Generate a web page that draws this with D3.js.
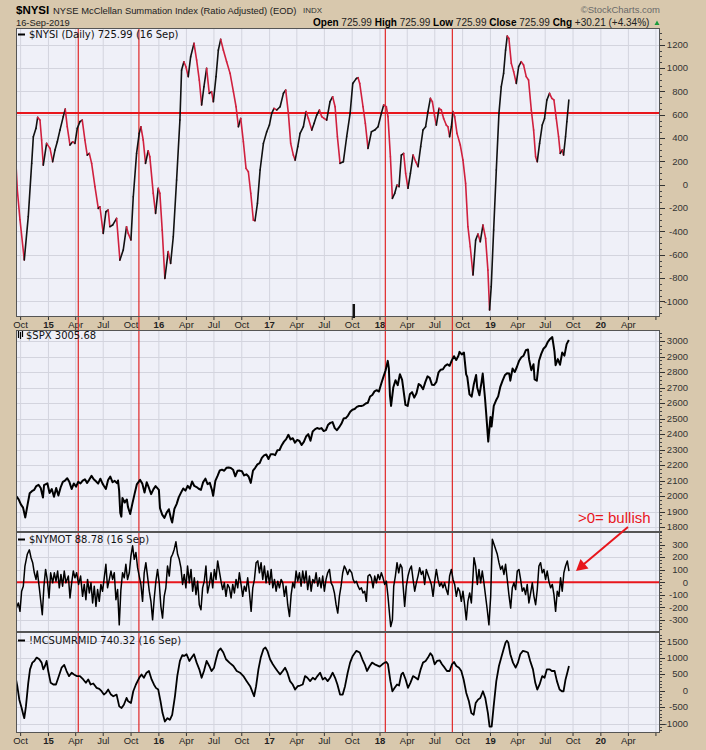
<!DOCTYPE html>
<html><head><meta charset="utf-8">
<script src="https://cdn.jsdelivr.net/npm/d3@7"></script>
<style>body{margin:0;background:#d8c8ad}svg{display:block}</style>
</head><body><svg id="c" width="706" height="750"></svg>
<script>
// ---------- DATA (decimal year, value) ----------
const nysi = [[2014.703,230],[2014.718,-46],[2014.742,-300],[2014.781,-645],[2014.817,-274],[2014.848,183],[2014.863,411],[2014.887,483],[2014.902,577],[2014.923,554],[2014.938,383],[2014.953,168],[2014.983,354],[2015.014,311],[2015.038,197],[2015.059,297],[2015.080,368],[2015.104,468],[2015.134,583],[2015.152,648],[2015.170,497],[2015.195,340],[2015.219,368],[2015.240,354],[2015.261,483],[2015.285,540],[2015.306,554],[2015.330,383],[2015.351,254],[2015.370,268],[2015.391,183],[2015.421,-17],[2015.451,-203],[2015.466,-189],[2015.496,-417],[2015.520,-232],[2015.541,-217],[2015.556,-360],[2015.581,-346],[2015.617,-289],[2015.647,-646],[2015.677,-560],[2015.707,-360],[2015.722,-417],[2015.747,-474],[2015.768,-103],[2015.798,268],[2015.822,440],[2015.837,497],[2015.858,383],[2015.879,183],[2015.903,291],[2015.918,240],[2015.949,-74],[2015.970,-246],[2015.994,-31],[2016.009,-74],[2016.030,-389],[2016.054,-803],[2016.084,-574],[2016.106,-674],[2016.130,-446],[2016.160,40],[2016.190,554],[2016.205,983],[2016.226,1054],[2016.244,1011],[2016.265,926],[2016.287,1097],[2016.317,1211],[2016.341,1068],[2016.365,897],[2016.386,683],[2016.407,840],[2016.431,997],[2016.455,783],[2016.476,797],[2016.492,711],[2016.516,926],[2016.537,1154],[2016.558,1246],[2016.582,1154],[2016.612,1054],[2016.643,954],[2016.673,797],[2016.697,668],[2016.718,497],[2016.739,568],[2016.763,368],[2016.787,140],[2016.808,111],[2016.830,-74],[2016.853,-303],[2016.868,-309],[2016.890,-160],[2016.914,126],[2016.944,354],[2016.974,454],[2016.998,511],[2017.019,611],[2017.040,654],[2017.065,640],[2017.095,668],[2017.125,783],[2017.146,811],[2017.170,611],[2017.191,354],[2017.215,254],[2017.231,211],[2017.255,326],[2017.276,440],[2017.306,497],[2017.330,626],[2017.351,568],[2017.382,468],[2017.403,526],[2017.427,597],[2017.451,640],[2017.472,583],[2017.493,568],[2017.517,554],[2017.547,711],[2017.571,754],[2017.593,668],[2017.614,411],[2017.638,183],[2017.668,197],[2017.698,411],[2017.729,611],[2017.753,868],[2017.786,911],[2017.801,917],[2017.816,868],[2017.846,668],[2017.867,526],[2017.891,311],[2017.922,454],[2017.952,468],[2017.982,497],[2018.012,611],[2018.033,683],[2018.057,668],[2018.072,583],[2018.094,240],[2018.112,-117],[2018.133,-74],[2018.154,-3],[2018.172,-17],[2018.193,254],[2018.214,268],[2018.232,97],[2018.253,-31],[2018.275,97],[2018.299,254],[2018.323,197],[2018.344,154],[2018.368,326],[2018.389,468],[2018.413,497],[2018.434,626],[2018.456,740],[2018.474,711],[2018.495,583],[2018.510,511],[2018.534,654],[2018.555,640],[2018.576,568],[2018.600,511],[2018.615,497],[2018.630,411],[2018.646,497],[2018.661,626],[2018.676,583],[2018.697,440],[2018.727,340],[2018.751,211],[2018.775,11],[2018.796,-360],[2018.817,-532],[2018.842,-774],[2018.866,-474],[2018.887,-423],[2018.908,-489],[2018.932,-346],[2018.956,-460],[2018.977,-732],[2018.992,-1074],[2019.007,-874],[2019.029,-389],[2019.053,126],[2019.077,611],[2019.098,840],[2019.119,954],[2019.137,1154],[2019.152,1274],[2019.167,1254],[2019.189,1040],[2019.210,969],[2019.234,868],[2019.255,1011],[2019.279,1054],[2019.300,1026],[2019.324,926],[2019.345,897],[2019.370,640],[2019.391,468],[2019.409,240],[2019.424,197],[2019.445,354],[2019.469,511],[2019.490,568],[2019.511,726],[2019.535,783],[2019.556,740],[2019.575,726],[2019.596,568],[2019.617,411],[2019.632,268],[2019.650,297],[2019.662,254],[2019.680,411],[2019.692,540],[2019.710,726]];

const spx = [[2014.71,1998],[2014.73,1978],[2014.75,1946],[2014.77,1925],[2014.79,1862],[2014.81,1941],[2014.83,2018],[2014.85,2031],[2014.87,2039],[2014.89,2064],[2014.91,2072],[2014.93,2052],[2014.95,1990],[2014.96,2070],[2014.99,2082],[2015.01,2020],[2015.03,2045],[2015.05,1995],[2015.07,2052],[2015.09,2003],[2015.11,2055],[2015.13,2092],[2015.15,2100],[2015.17,2115],[2015.19,2090],[2015.21,2045],[2015.23,2081],[2015.25,2061],[2015.27,2092],[2015.29,2081],[2015.31,2100],[2015.33,2108],[2015.35,2085],[2015.37,2106],[2015.39,2130],[2015.41,2108],[2015.43,2095],[2015.45,2080],[2015.47,2112],[2015.49,2080],[2015.50,2068],[2015.52,2046],[2015.54,2103],[2015.56,2125],[2015.58,2089],[2015.60,2098],[2015.62,2083],[2015.63,2100],[2015.64,2035],[2015.65,1893],[2015.66,1867],[2015.67,1988],[2015.69,1958],[2015.71,1978],[2015.72,1930],[2015.74,1884],[2015.76,1951],[2015.78,2014],[2015.80,2075],[2015.83,2104],[2015.85,2080],[2015.87,2023],[2015.89,2089],[2015.91,2052],[2015.93,2012],[2015.95,2043],[2015.97,2064],[2016.00,2040],[2016.01,1922],[2016.03,1880],[2016.05,1859],[2016.07,1893],[2016.09,1915],[2016.11,1852],[2016.12,1829],[2016.14,1917],[2016.16,1948],[2016.18,1993],[2016.20,2022],[2016.22,2049],[2016.24,2035],[2016.26,2066],[2016.28,2048],[2016.30,2094],[2016.32,2065],[2016.34,2058],[2016.36,2047],[2016.38,2040],[2016.40,2090],[2016.42,2112],[2016.44,2077],[2016.46,2085],[2016.48,2037],[2016.49,2001],[2016.51,2098],[2016.53,2130],[2016.55,2165],[2016.57,2170],[2016.59,2163],[2016.61,2182],[2016.63,2184],[2016.65,2181],[2016.67,2170],[2016.69,2127],[2016.71,2163],[2016.73,2164],[2016.75,2160],[2016.77,2133],[2016.79,2140],[2016.81,2126],[2016.83,2085],[2016.85,2164],[2016.87,2182],[2016.89,2204],[2016.91,2212],[2016.93,2246],[2016.95,2262],[2016.97,2268],[2016.99,2239],[2017.01,2270],[2017.03,2270],[2017.05,2264],[2017.07,2295],[2017.09,2297],[2017.11,2328],[2017.13,2351],[2017.15,2367],[2017.17,2395],[2017.19,2365],[2017.21,2373],[2017.23,2344],[2017.25,2362],[2017.27,2355],[2017.29,2329],[2017.31,2349],[2017.33,2384],[2017.35,2399],[2017.37,2357],[2017.39,2416],[2017.41,2430],[2017.43,2439],[2017.45,2433],[2017.47,2438],[2017.49,2419],[2017.51,2425],[2017.53,2460],[2017.55,2472],[2017.57,2477],[2017.59,2438],[2017.61,2425],[2017.63,2444],[2017.65,2466],[2017.67,2500],[2017.69,2503],[2017.71,2519],[2017.73,2544],[2017.75,2557],[2017.77,2561],[2017.79,2575],[2017.81,2581],[2017.83,2581],[2017.85,2585],[2017.87,2597],[2017.89,2602],[2017.91,2642],[2017.93,2652],[2017.95,2675],[2017.97,2683],[2017.99,2674],[2018.01,2723],[2018.03,2767],[2018.05,2810],[2018.07,2872],[2018.08,2823],[2018.09,2648],[2018.10,2581],[2018.12,2700],[2018.14,2747],[2018.16,2715],[2018.18,2786],[2018.20,2750],[2018.22,2643],[2018.23,2588],[2018.25,2581],[2018.27,2656],[2018.29,2670],[2018.31,2635],[2018.33,2663],[2018.35,2723],[2018.37,2712],[2018.39,2689],[2018.41,2735],[2018.43,2772],[2018.45,2762],[2018.47,2718],[2018.49,2716],[2018.51,2736],[2018.53,2798],[2018.55,2815],[2018.57,2818],[2018.59,2840],[2018.61,2850],[2018.63,2840],[2018.65,2875],[2018.67,2902],[2018.69,2878],[2018.71,2905],[2018.72,2930],[2018.74,2914],[2018.76,2925],[2018.78,2785],[2018.79,2768],[2018.81,2656],[2018.83,2641],[2018.85,2723],[2018.87,2781],[2018.88,2700],[2018.90,2650],[2018.92,2738],[2018.93,2790],[2018.95,2637],[2018.96,2546],[2018.98,2351],[2019.00,2510],[2019.01,2448],[2019.03,2582],[2019.05,2616],[2019.07,2643],[2019.09,2706],[2019.11,2745],[2019.13,2779],[2019.15,2792],[2019.17,2790],[2019.18,2744],[2019.20,2822],[2019.22,2800],[2019.24,2834],[2019.26,2873],[2019.28,2895],[2019.30,2905],[2019.32,2940],[2019.34,2945],[2019.35,2881],[2019.37,2812],[2019.39,2850],[2019.40,2752],[2019.42,2744],[2019.44,2873],[2019.46,2917],[2019.48,2950],[2019.50,2964],[2019.52,2995],[2019.54,3013],[2019.56,3025],[2019.58,2932],[2019.59,2844],[2019.61,2883],[2019.63,2847],[2019.65,2926],[2019.67,2906],[2019.69,2980],[2019.71,3006]];

const nymot = [[2014.703,-220],[2014.727,-166],[2014.742,-233],[2014.757,-72],[2014.772,-32],[2014.787,129],[2014.808,223],[2014.827,258],[2014.842,196],[2014.857,156],[2014.872,75],[2014.887,22],[2014.899,89],[2014.917,-45],[2014.929,-140],[2014.944,-260],[2014.959,-32],[2014.974,102],[2014.989,22],[2015.005,-126],[2015.020,75],[2015.038,-5],[2015.053,75],[2015.068,8],[2015.083,89],[2015.098,-45],[2015.113,62],[2015.128,-32],[2015.143,89],[2015.158,-5],[2015.180,49],[2015.195,-126],[2015.210,-5],[2015.225,89],[2015.240,35],[2015.255,75],[2015.273,-18],[2015.291,49],[2015.309,-113],[2015.324,-18],[2015.339,-140],[2015.354,22],[2015.370,-86],[2015.385,-5],[2015.400,-166],[2015.415,-32],[2015.430,-193],[2015.445,-59],[2015.460,-153],[2015.475,-18],[2015.490,-72],[2015.505,35],[2015.520,143],[2015.535,-45],[2015.551,22],[2015.566,89],[2015.581,22],[2015.596,75],[2015.611,-140],[2015.626,-59],[2015.641,-341],[2015.656,-59],[2015.671,75],[2015.686,35],[2015.701,143],[2015.716,22],[2015.732,75],[2015.747,210],[2015.762,291],[2015.777,183],[2015.792,237],[2015.807,116],[2015.822,49],[2015.837,-18],[2015.852,-153],[2015.867,75],[2015.882,156],[2015.897,49],[2015.913,-72],[2015.928,-153],[2015.943,-301],[2015.958,-126],[2015.973,8],[2015.988,102],[2016.003,-5],[2016.018,-193],[2016.033,-287],[2016.048,-113],[2016.063,-45],[2016.078,129],[2016.094,49],[2016.109,196],[2016.124,223],[2016.139,264],[2016.154,323],[2016.169,223],[2016.184,183],[2016.199,116],[2016.214,-18],[2016.229,62],[2016.244,-45],[2016.259,129],[2016.275,-5],[2016.290,102],[2016.305,-72],[2016.320,35],[2016.335,-99],[2016.350,8],[2016.365,-180],[2016.380,-220],[2016.395,-45],[2016.410,8],[2016.425,129],[2016.440,-86],[2016.456,-18],[2016.471,75],[2016.486,-45],[2016.501,102],[2016.516,22],[2016.531,170],[2016.546,89],[2016.561,8],[2016.576,-59],[2016.591,-5],[2016.606,-113],[2016.621,-18],[2016.637,-45],[2016.652,-126],[2016.667,-18],[2016.682,-86],[2016.697,22],[2016.712,-45],[2016.727,75],[2016.742,-18],[2016.757,-113],[2016.772,-32],[2016.787,-72],[2016.802,35],[2016.818,-86],[2016.833,-233],[2016.848,-45],[2016.863,22],[2016.878,156],[2016.893,170],[2016.908,75],[2016.923,156],[2016.938,22],[2016.953,129],[2016.968,-5],[2016.983,89],[2016.999,-18],[2017.014,102],[2017.029,-45],[2017.044,22],[2017.059,-72],[2017.074,8],[2017.089,-45],[2017.104,22],[2017.119,-5],[2017.134,-113],[2017.149,-32],[2017.164,-180],[2017.180,-274],[2017.195,-99],[2017.210,-5],[2017.225,-45],[2017.240,89],[2017.255,8],[2017.270,75],[2017.285,-32],[2017.300,89],[2017.315,-5],[2017.330,89],[2017.345,-59],[2017.361,49],[2017.376,-72],[2017.391,22],[2017.406,-5],[2017.421,75],[2017.436,-32],[2017.451,35],[2017.466,-45],[2017.481,49],[2017.496,-72],[2017.511,22],[2017.526,75],[2017.542,102],[2017.557,-5],[2017.572,-32],[2017.587,-86],[2017.602,-180],[2017.617,-247],[2017.632,-113],[2017.647,-32],[2017.662,75],[2017.677,129],[2017.692,102],[2017.707,62],[2017.723,102],[2017.744,75],[2017.756,22],[2017.771,-5],[2017.786,8],[2017.801,-32],[2017.816,-59],[2017.831,-45],[2017.846,-86],[2017.861,-72],[2017.876,-153],[2017.891,49],[2017.907,62],[2017.922,35],[2017.937,-45],[2017.952,49],[2017.967,-5],[2017.982,62],[2017.997,22],[2018.012,75],[2018.027,35],[2018.042,-18],[2018.057,8],[2018.072,-113],[2018.088,-274],[2018.097,-355],[2018.112,-301],[2018.124,-32],[2018.139,49],[2018.154,156],[2018.169,75],[2018.184,143],[2018.199,116],[2018.208,-18],[2018.223,-193],[2018.238,-32],[2018.253,49],[2018.269,102],[2018.284,129],[2018.299,22],[2018.314,-72],[2018.329,-5],[2018.344,49],[2018.359,116],[2018.374,62],[2018.389,89],[2018.404,-18],[2018.419,102],[2018.434,62],[2018.450,22],[2018.465,-18],[2018.480,-113],[2018.495,8],[2018.510,102],[2018.525,22],[2018.540,-32],[2018.555,-5],[2018.570,-45],[2018.585,-5],[2018.600,-59],[2018.615,-99],[2018.630,49],[2018.646,102],[2018.661,22],[2018.676,-18],[2018.691,-113],[2018.706,-45],[2018.721,-72],[2018.736,-153],[2018.751,-72],[2018.766,-180],[2018.781,-301],[2018.796,-153],[2018.812,-86],[2018.827,-166],[2018.842,49],[2018.851,196],[2018.866,129],[2018.881,-18],[2018.896,102],[2018.911,-5],[2018.926,89],[2018.941,-5],[2018.956,-113],[2018.971,-220],[2018.986,-341],[2019.002,-113],[2019.017,344],[2019.032,304],[2019.047,264],[2019.062,223],[2019.077,156],[2019.092,102],[2019.107,129],[2019.122,62],[2019.137,143],[2019.152,22],[2019.167,-99],[2019.183,-207],[2019.198,-45],[2019.213,-5],[2019.228,-59],[2019.243,89],[2019.258,102],[2019.273,22],[2019.288,-72],[2019.303,-45],[2019.318,-99],[2019.333,-18],[2019.348,-166],[2019.364,-86],[2019.379,-5],[2019.394,-113],[2019.409,-180],[2019.424,-59],[2019.439,129],[2019.454,156],[2019.469,75],[2019.484,102],[2019.499,22],[2019.514,89],[2019.529,8],[2019.545,-45],[2019.560,-18],[2019.575,-99],[2019.590,-233],[2019.605,-72],[2019.620,-113],[2019.635,35],[2019.650,-72],[2019.665,75],[2019.680,129],[2019.696,170],[2019.711,89]];

const mcsum = [[2014.703,389],[2014.718,134],[2014.736,-275],[2014.757,-531],[2014.772,-735],[2014.781,-837],[2014.796,-480],[2014.817,236],[2014.833,645],[2014.854,849],[2014.872,900],[2014.893,1002],[2014.917,951],[2014.938,849],[2014.953,645],[2014.968,747],[2014.983,900],[2014.998,594],[2015.020,236],[2015.044,185],[2015.068,185],[2015.089,389],[2015.119,696],[2015.143,778],[2015.164,594],[2015.186,440],[2015.210,543],[2015.231,491],[2015.255,440],[2015.285,440],[2015.315,338],[2015.339,236],[2015.360,338],[2015.382,185],[2015.406,215],[2015.436,83],[2015.460,52],[2015.481,-20],[2015.502,-122],[2015.520,-71],[2015.541,31],[2015.566,-122],[2015.587,-173],[2015.617,-122],[2015.641,-480],[2015.662,-531],[2015.683,-429],[2015.707,-224],[2015.722,-327],[2015.747,-378],[2015.768,-20],[2015.792,185],[2015.822,389],[2015.843,491],[2015.864,389],[2015.888,543],[2015.910,594],[2015.934,338],[2015.955,185],[2015.973,83],[2015.994,31],[2016.015,-327],[2016.033,-684],[2016.054,-940],[2016.078,-837],[2016.099,-888],[2016.120,-735],[2016.145,-173],[2016.166,440],[2016.190,900],[2016.211,1074],[2016.229,1053],[2016.250,1104],[2016.275,900],[2016.296,1002],[2016.317,1104],[2016.341,849],[2016.365,645],[2016.386,389],[2016.407,594],[2016.431,900],[2016.455,747],[2016.476,594],[2016.498,696],[2016.516,951],[2016.537,1207],[2016.558,1278],[2016.582,1156],[2016.606,951],[2016.637,849],[2016.673,747],[2016.703,594],[2016.733,543],[2016.763,440],[2016.793,287],[2016.824,134],[2016.848,-71],[2016.860,-173],[2016.878,134],[2016.899,645],[2016.920,1002],[2016.944,1258],[2016.962,1309],[2016.980,1207],[2017.004,951],[2017.029,798],[2017.050,696],[2017.071,594],[2017.095,491],[2017.119,594],[2017.140,696],[2017.161,543],[2017.185,287],[2017.209,185],[2017.231,31],[2017.255,134],[2017.276,154],[2017.300,185],[2017.321,440],[2017.342,389],[2017.367,287],[2017.391,389],[2017.412,338],[2017.433,440],[2017.457,543],[2017.481,338],[2017.502,389],[2017.526,287],[2017.548,389],[2017.571,543],[2017.593,389],[2017.614,185],[2017.638,-122],[2017.662,-122],[2017.683,134],[2017.707,543],[2017.729,849],[2017.753,1053],[2017.786,1207],[2017.816,1156],[2017.840,951],[2017.861,798],[2017.882,594],[2017.907,747],[2017.928,849],[2017.952,798],[2017.973,767],[2017.997,727],[2018.021,798],[2018.042,849],[2018.057,869],[2018.072,798],[2018.094,287],[2018.112,-20],[2018.133,83],[2018.154,185],[2018.172,154],[2018.193,491],[2018.208,543],[2018.232,338],[2018.253,83],[2018.275,236],[2018.299,440],[2018.323,389],[2018.344,338],[2018.368,645],[2018.389,849],[2018.413,900],[2018.434,1002],[2018.456,1135],[2018.474,1053],[2018.495,798],[2018.516,900],[2018.540,920],[2018.561,798],[2018.585,696],[2018.606,594],[2018.630,594],[2018.652,798],[2018.670,869],[2018.691,747],[2018.715,696],[2018.736,594],[2018.757,338],[2018.781,-71],[2018.805,-327],[2018.827,-684],[2018.848,-735],[2018.866,-378],[2018.887,-275],[2018.908,-224],[2018.932,-20],[2018.953,-224],[2018.977,-684],[2018.992,-1093],[2019.011,-1093],[2019.029,-480],[2019.053,287],[2019.077,747],[2019.098,1002],[2019.119,1258],[2019.137,1462],[2019.149,1513],[2019.161,1462],[2019.180,1104],[2019.204,849],[2019.228,696],[2019.249,849],[2019.270,1104],[2019.294,1207],[2019.318,1186],[2019.339,1156],[2019.360,900],[2019.385,645],[2019.406,236],[2019.424,31],[2019.445,185],[2019.469,440],[2019.490,389],[2019.511,645],[2019.535,645],[2019.556,594],[2019.581,594],[2019.602,287],[2019.626,31],[2019.647,-20],[2019.662,-20],[2019.680,338],[2019.696,543],[2019.711,747]];

const markerDates = [2015.270, 2015.819, 2018.048, 2018.655];
const nysiLevel = 615;
const nysiTicks = [-1000,-800,-600,-400,-200,0,200,400,600,800,1000,1200];
const spxTicks = [1800,1900,2000,2100,2200,2300,2400,2500,2600,2700,2800,2900,3000];
const nymotTicks = [-300,-200,-100,0,100,200,300];
const mcsumTicks = [-1000,-500,0,500,1000,1500];

// ---------- SETUP ----------
const svg = d3.select("#c");
const BG="#d8c8ad", PLOT="#eff0f8", GRID="#d3d4de", RED="#e8161c", DOWN="#d0203e";
const FONT="'Liberation Sans', Arial, sans-serif", LFONT="'DejaVu Sans', Verdana, sans-serif";
svg.append("rect").attr("width",706).attr("height",750).attr("fill",BG);

function yr(t){const y=Math.floor(t);const s=Date.UTC(y,0,1),e=Date.UTC(y+1,0,1);return new Date(s+(t-y)*(e-s));}
const X0=16, X1=660;
const x = d3.scaleUtc().domain([yr(2014.706), yr(2020.534)]).range([X0,X1]);
const qTicks = d3.utcMonth.every(3).range(x.domain()[0], x.domain()[1]);
const labelTicks = qTicks.filter(d=>x(d) < X1-20);
const mName = ["","","","Apr","","","Jul","","","Oct"];

const P = [
  {id:"nysi", top:28, bottom:317, dom:[-1134,1343], ticks:nysiTicks, minor:50},
  {id:"spx", top:330, bottom:532, dom:[1768,3071], ticks:spxTicks, minor:25},
  {id:"nymot", top:532, bottom:632, dom:[-398,401], ticks:nymotTicks, minor:25},
  {id:"mcsum", top:632, bottom:733, dom:[-1288,1779], ticks:mcsumTicks, minor:100}
];
P.forEach(p=>{
  p.y = d3.scaleLinear().domain(p.dom).range([p.bottom,p.top]);
  const g = svg.append("g");
  g.append("rect").attr("x",X0).attr("y",p.top).attr("width",X1-X0).attr("height",p.bottom-p.top).attr("fill",PLOT);
  g.selectAll(".vg").data(qTicks).join("line").attr("x1",d=>x(d)).attr("x2",d=>x(d))
    .attr("y1",p.top).attr("y2",p.bottom).attr("stroke",GRID).attr("stroke-width",1);
  g.selectAll(".hg").data(p.ticks).join("line").attr("x1",X0).attr("x2",X1)
    .attr("y1",d=>Math.round(p.y(d))+0.5).attr("y2",d=>Math.round(p.y(d))+0.5).attr("stroke",GRID);
  const mins = d3.range(Math.ceil(p.dom[0]/p.minor)*p.minor, p.dom[1], p.minor);
  g.selectAll(".mt").data(mins).join("line").attr("x1",X1).attr("x2",X1+2)
    .attr("y1",d=>Math.round(p.y(d))+0.5).attr("y2",d=>Math.round(p.y(d))+0.5).attr("stroke","#444");
  g.selectAll(".Mt").data(p.ticks).join("line").attr("x1",X1).attr("x2",X1+5)
    .attr("y1",d=>Math.round(p.y(d))+0.5).attr("y2",d=>Math.round(p.y(d))+0.5).attr("stroke","#333");
  g.selectAll(".tl").data(p.ticks).join("text").attr("x",688).attr("y",d=>p.y(d)).attr("dy","0.35em")
    .attr("text-anchor","end").attr("font-family",FONT).attr("font-size",9.5).attr("fill","#333").text(d=>d);
  svg.append("clipPath").attr("id","cl-"+p.id).append("rect")
    .attr("x",X0).attr("y",p.top).attr("width",X1-X0).attr("height",p.bottom-p.top);
});

// x-axis label bands
function xLabels(yb, yTickTop){
  const g = svg.append("g");
  g.selectAll("line").data(qTicks).join("line").attr("x1",d=>x(d)).attr("x2",d=>x(d))
    .attr("y1",yTickTop).attr("y2",yTickTop+3).attr("stroke","#333");
  g.selectAll("text").data(labelTicks).join("text").attr("x",d=>x(d)).attr("y",yb)
    .attr("text-anchor","middle").attr("font-family",FONT).attr("font-size",9.5).attr("fill","#222")
    .attr("font-weight",d=>d.getUTCMonth()===0?"bold":"normal")
    .text(d=>d.getUTCMonth()===0?String(d.getUTCFullYear()).slice(2):mName[d.getUTCMonth()]);
}
xLabels(328, 317);
xLabels(744, 733);

// red vertical markers
svg.selectAll(".rv").data(markerDates).join("line")
  .attr("x1",d=>x(yr(d))).attr("x2",d=>x(yr(d))).attr("y1",28).attr("y2",733)
  .attr("stroke","#e02828").attr("stroke-width",1.2);

// horizontal reference lines
svg.append("line").attr("x1",X0).attr("x2",X1).attr("y1",P[0].y(nysiLevel)).attr("y2",P[0].y(nysiLevel))
  .attr("stroke",RED).attr("stroke-width",2);
svg.append("line").attr("x1",X0).attr("x2",X1).attr("y1",P[2].y(0)).attr("y2",P[2].y(0))
  .attr("stroke",RED).attr("stroke-width",2);

// NYSI colored by direction
const gN = svg.append("g").attr("clip-path","url(#cl-nysi)");
const segs = d3.pairs(nysi);
gN.selectAll("line").data(segs).join("line")
  .attr("x1",d=>x(yr(d[0][0]))).attr("y1",d=>P[0].y(d[0][1]))
  .attr("x2",d=>x(yr(d[1][0]))).attr("y2",d=>P[0].y(d[1][1]))
  .attr("stroke",d=>d[1][1]>=d[0][1]?"#111":DOWN).attr("stroke-width",1.6).attr("stroke-linecap","round");

function drawLine(data,p,w){
  svg.append("path").attr("clip-path","url(#cl-"+p.id+")").datum(data)
    .attr("d",d3.line().x(d=>x(yr(d[0]))).y(d=>p.y(d[1])))
    .attr("fill","none").attr("stroke","#000").attr("stroke-width",w).attr("stroke-linejoin","round");
}
drawLine(spx,P[1],2);
drawLine(nymot,P[2],1.5);
drawLine(mcsum,P[3],1.8);

// panel borders
P.forEach(p=>{
  svg.append("rect").attr("x",X0+0.5).attr("y",p.top+0.5).attr("width",X1-X0-1).attr("height",p.bottom-p.top-1)
    .attr("fill","none").attr("stroke","#555").attr("stroke-width",1);
});
// small dark mark near Oct 2017 at panel bottom
svg.append("rect").attr("x",x(yr(2017.76))-1).attr("y",304).attr("width",2.5).attr("height",14).attr("fill","#111");

// legends
function legend(yb, label, icon){
  if(!icon){
    svg.append("line").attr("x1",18).attr("x2",25).attr("y1",yb-3.5).attr("y2",yb-3.5).attr("stroke","#000").attr("stroke-width",2);
  } else {
    [[18.5,yb-8,yb-1],[20.5,yb-7,yb],[22.5,yb-8,yb-2]].forEach(a=>{
      svg.append("line").attr("x1",a[0]).attr("x2",a[0]).attr("y1",a[1]).attr("y2",a[2]).attr("stroke","#000").attr("stroke-width",1.2);
    });
  }
  svg.append("text").attr("x",icon?26:29).attr("y",yb).attr("font-family",LFONT).attr("font-size",10).attr("fill","#111").text(label);
}
legend(38,"$NYSI (Daily) 725.99 (16 Sep)");
legend(339,"$SPX 3005.68",true);
legend(543,"$NYMOT 88.78 (16 Sep)");
legend(644,"!MCSUMRMID 740.32 (16 Sep)");

// header
svg.append("text").attr("x",16).attr("y",14).attr("font-family",FONT).attr("font-weight","bold").attr("font-size",11.5)
  .text("$NYSI");
svg.append("text").attr("x",53).attr("y",14).attr("font-family",FONT).attr("font-size",9.4).attr("fill","#222")
  .text("NYSE McClellan Summation Index (Ratio Adjusted) (EOD)");
svg.append("text").attr("x",303).attr("y",13).attr("font-family",FONT).attr("font-size",8).attr("fill","#333").text("INDX");
svg.append("text").attr("x",16).attr("y",26).attr("font-family",FONT).attr("font-size",9.3).attr("fill","#222")
  .text("16-Sep-2019");
svg.append("text").attr("x",660).attr("y",13).attr("text-anchor","end").attr("font-family",FONT).attr("font-size",9.5)
  .attr("fill","#6a6a6a").text("\u00A9StockCharts.com");
const oh = svg.append("text").attr("x",313).attr("y",26).attr("font-family",FONT).attr("font-size",10).attr("fill","#222");
[["Open"," 725.99 "],["High"," 725.99 "],["Low"," 725.99 "],["Close"," 725.99 "],["Chg"," +30.21 (+4.34%)"]].forEach(a=>{
  oh.append("tspan").attr("font-weight","bold").attr("fill","#000").text(a[0]);
  oh.append("tspan").text(a[1]);
});
svg.append("path").attr("d","M654.5,25 L659.5,25 L657,20.5 Z").attr("fill","#1a9a3a");

// annotation
svg.append("text").attr("x",578).attr("y",523).attr("font-family",FONT).attr("font-size",15).attr("fill","#e8161c")
  .text(">0= bullish");
svg.append("line").attr("x1",628).attr("y1",527).attr("x2",584).attr("y2",564).attr("stroke","#e8161c").attr("stroke-width",2);
svg.append("path").attr("d","M576,571 L580.5,559 L588.5,568.5 Z").attr("fill","#e8161c");
</script></body></html>
